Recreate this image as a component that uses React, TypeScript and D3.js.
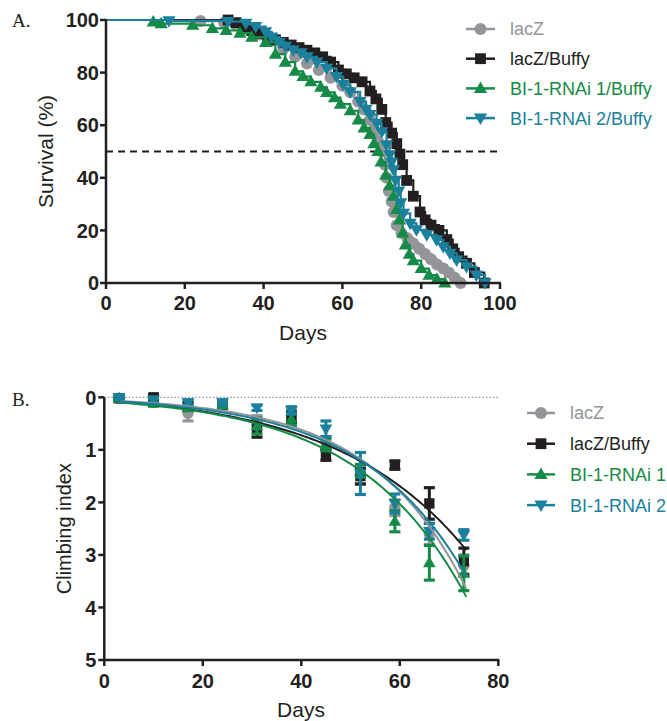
import React from "react";
import * as d3 from "d3";

// ---------- Shared ----------
const colors = ["#939598", "#231f20", "#168a47", "#1a809c"];
const shapes = ["circle", "square", "triUp", "triDown"];
const legendA = ["lacZ", "lacZ/Buffy", "BI-1-RNAi 1/Buffy", "BI-1-RNAi 2/Buffy"];
const legendB = ["lacZ", "lacZ/Buffy", "BI-1-RNAi 1", "BI-1-RNAi 2"];

// ---------- Panel A: survival (day, % surviving) ----------
const survLacZ: [number, number][] = [
  [0, 100], [24, 99.6], [30, 99], [33, 98], [36, 96.5], [39, 94.5], [42, 92], [45, 89], [48, 86],
  [51, 83.5], [54, 81], [57, 78], [60, 75], [62, 72.5], [64, 69], [65.5, 66], [67, 62], [68, 58],
  [69, 54], [70, 50], [70.8, 45], [71.2, 40], [71.8, 35], [72.5, 31], [73, 27], [73.8, 22], [75, 19],
  [76.5, 17], [78, 15], [79.5, 13], [81, 11], [82.5, 9], [84, 7], [85.6, 5.5], [87, 4], [88.5, 2], [90, 0],
];
const survLacZBuffy: [number, number][] = [
  [0, 100], [31, 100], [33, 99], [35, 97], [37, 96], [39, 95], [41, 93.5], [43, 92.5], [45, 91.5],
  [47, 90.5], [49, 89.5], [51, 88.5], [53, 87.5], [55, 86], [57, 84], [59, 81], [61, 79.5], [63, 78],
  [65, 76.5], [67, 73], [68.5, 70], [70, 66], [71, 61], [72.5, 57], [73.8, 53], [74.6, 49], [75.3, 45],
  [76.3, 39], [78, 33], [79.7, 27], [81, 24], [82.5, 22], [84.5, 20], [86.5, 16.5], [88, 13],
  [89.5, 10], [91.5, 7.5], [93.5, 4], [96, 0],
];
const survRNAi1: [number, number][] = [
  [0, 100], [12, 99.3], [14, 98.6], [22, 98], [27, 96.8], [30.5, 96], [34, 95], [37, 93.5],
  [40.5, 91.5], [43, 87], [45.5, 84], [48, 80.5], [50, 78.5], [52, 76.5], [54.5, 74.5], [56, 72.5],
  [58, 70.5], [59.5, 68], [62, 65.5], [64, 62], [65.5, 59], [67, 56.5], [68, 53], [69, 50], [69.8, 46],
  [71, 41], [72, 37], [73, 33], [73.8, 28], [74.5, 24], [75.3, 19], [76, 14.5], [77, 11], [78, 8.5],
  [80, 5.5], [82, 3], [84, 1.5], [86, 0],
];
const survRNAi2: [number, number][] = [
  [0, 100], [16, 99.7], [31, 99.4], [35.5, 98.7], [38, 97.5], [40.5, 95.5], [42, 93.5], [44, 91.5],
  [45.5, 90], [47.5, 88.6], [49.5, 87.5], [51, 86], [53.5, 84], [56, 81.6], [58.5, 78.5], [60.2, 75.5],
  [62, 72.7], [64.5, 69], [66, 66], [67, 64], [68.7, 60.7], [70, 57.5], [71.2, 52.5], [72, 48.7],
  [72.5, 46], [73, 43], [73.5, 39], [74.3, 35], [74.8, 30.5], [75.5, 26.5], [77.2, 22.7], [78.8, 20.2],
  [81.4, 18.3], [83.9, 16.4], [85.6, 13.8], [87.3, 11.3], [89, 8.7], [91.5, 6.2], [94, 3], [96.2, 0],
];
const survivalSeries = [survLacZ, survLacZBuffy, survRNAi1, survRNAi2];
const ticksA_x = [0, 20, 40, 60, 80, 100];
const ticksA_y = [0, 20, 40, 60, 80, 100];

// ---------- Panel B: climbing index ----------
const climbDays = [3, 10, 17, 24, 31, 38, 45, 52, 59, 66, 73];
const climbLacZ = [0.02, 0.1, 0.3, 0.15, 0.45, 0.35, 0.85, 1.5, 2.1, 2.6, 3.2];
const climbLacZErr = [0.03, 0.05, 0.15, 0.05, 0.1, 0.1, 0.1, 0.15, 0.15, 0.2, 0.2];
const climbLacZBuffy = [0.02, 0.0, 0.15, 0.15, 0.58, 0.38, 1.1, 1.5, 1.29, 2.02, 3.12];
const climbLacZBuffyErr = [0.03, 0.05, 0.05, 0.05, 0.18, 0.1, 0.1, 0.15, 0.08, 0.3, 0.25];
const climbRNAi1 = [0.02, 0.1, 0.2, 0.15, 0.55, 0.42, 0.9, 1.4, 2.36, 3.15, 3.35];
const climbRNAi1Err = [0.03, 0.07, 0.05, 0.05, 0.15, 0.12, 0.12, 0.12, 0.2, 0.33, 0.33];
const climbRNAi2 = [0.0, 0.05, 0.1, 0.1, 0.2, 0.25, 0.6, 1.45, 2.02, 2.55, 2.62];
const climbRNAi2Err = [0.03, 0.05, 0.05, 0.05, 0.05, 0.07, 0.15, 0.4, 0.18, 0.15, 0.1];
const climbMeans = [climbLacZ, climbLacZBuffy, climbRNAi1, climbRNAi2];
const climbErrs = [climbLacZErr, climbLacZBuffyErr, climbRNAi1Err, climbRNAi2Err];
// exponential fit parameters y = c + a * exp(k * day)
const fitA = [0.0803, 0.186, 0.136, 0.105];
const fitK = [0.052, 0.038, 0.0455, 0.0475];
const fitC = [-0.024, -0.128, -0.056, -0.041];
const ticksB_x = [0, 20, 40, 60, 80];
const ticksB_y = [0, 1, 2, 3, 4, 5];

const FONT = "'Liberation Sans', Arial, sans-serif";
const INK = "#231f20";

function Marker({ shape, x, y, color, size }: { shape: string; x: number; y: number; color: string; size: number }) {
  if (shape === "circle") return <circle cx={x} cy={y} r={size * 0.5} fill={color} />;
  if (shape === "square")
    return <rect x={x - size * 0.45} y={y - size * 0.45} width={size * 0.9} height={size * 0.9} fill={color} />;
  const h = size * 0.95;
  const w = size * 1.1;
  if (shape === "triUp")
    return <path d={`M${x},${y - h * 0.6}L${x + w / 2},${y + h * 0.4}L${x - w / 2},${y + h * 0.4}Z`} fill={color} />;
  return <path d={`M${x},${y + h * 0.6}L${x + w / 2},${y - h * 0.4}L${x - w / 2},${y - h * 0.4}Z`} fill={color} />;
}

export default function App() {
  // Panel A scales
  const xA = d3.scaleLinear().domain([0, 100]).range([106, 500]);
  const yA = d3.scaleLinear().domain([0, 100]).range([283, 20]);
  // Panel B scales
  const xB = d3.scaleLinear().domain([0, 80]).range([104.3, 498.3]);
  const yB = d3.scaleLinear().domain([0, 5]).range([397.3, 660]);

  const stepLine = d3
    .line<[number, number]>()
    .x((d) => xA(d[0]))
    .y((d) => yA(d[1]))
    .curve(d3.curveStepAfter);

  const fitDays = d3.range(3, 73.6, 0.5);

  return (
    <svg width={667} height={721} style={{ display: "block", position: "absolute", left: 0, top: 0 }}>
      <rect width={667} height={721} fill="#fff" />
      {/* Panel letters */}
      <text x={12} y={27} fontFamily="'Liberation Serif', 'Times New Roman', serif" fontSize={19} fill={INK}>A.</text>
      <text x={12} y={406} fontFamily="'Liberation Serif', 'Times New Roman', serif" fontSize={19} fill={INK}>B.</text>

      {/* ===== Panel A ===== */}
      <line x1={xA(0)} x2={xA(100)} y1={yA(50)} y2={yA(50)} stroke={INK} strokeWidth={2} strokeDasharray="7,5" />
      {survivalSeries.map((s, i) => (
        <g key={"sa" + i}>
          <path d={stepLine(s) || ""} fill="none" stroke={colors[i]} strokeWidth={2.2} />
          {s.slice(1).map((d, j) => (
            <Marker key={j} shape={shapes[i]} x={xA(d[0])} y={yA(d[1])} color={colors[i]} size={12} />
          ))}
        </g>
      ))}
      {/* axes A */}
      <line x1={xA(0)} x2={xA(0)} y1={yA(100) - 1} y2={yA(0)} stroke={INK} strokeWidth={2.5} />
      <line x1={xA(0) - 1} x2={xA(100) + 1} y1={yA(0)} y2={yA(0)} stroke={INK} strokeWidth={2.5} />
      {ticksA_y.map((t) => (
        <g key={"ya" + t}>
          <line x1={xA(0) - 6} x2={xA(0)} y1={yA(t)} y2={yA(t)} stroke={INK} strokeWidth={2.5} />
          <text x={xA(0) - 7} y={yA(t)} dy="0.36em" textAnchor="end" fontFamily={FONT} fontWeight="bold" fontSize={20} fill={INK}>{t}</text>
        </g>
      ))}
      {ticksA_x.map((t) => (
        <g key={"xa" + t}>
          <line x1={xA(t)} x2={xA(t)} y1={yA(0)} y2={yA(0) + 6} stroke={INK} strokeWidth={2.5} />
          <text x={xA(t)} y={yA(0) + 27} textAnchor="middle" fontFamily={FONT} fontWeight="bold" fontSize={20} fill={INK}>{t}</text>
        </g>
      ))}
      <text x={303} y={340} textAnchor="middle" fontFamily={FONT} fontSize={21} fill={INK}>Days</text>
      <text transform={`translate(53,${(yA(0) + yA(100)) / 2}) rotate(-90)`} textAnchor="middle" fontFamily={FONT} fontSize={21} fill={INK}>Survival (%)</text>
      {/* legend A */}
      {legendA.map((name, i) => {
        const y = 29 + i * 29.7;
        return (
          <g key={"la" + i}>
            <line x1={466} x2={495} y1={y} y2={y} stroke={colors[i]} strokeWidth={2.5} />
            <Marker shape={shapes[i]} x={480.5} y={y} color={colors[i]} size={12} />
            <text x={510} y={y} dy="0.36em" fontFamily={FONT} fontSize={18} fill={colors[i]}>{name}</text>
          </g>
        );
      })}

      {/* ===== Panel B ===== */}
      <line x1={xB(0)} x2={xB(80)} y1={yB(0)} y2={yB(0)} stroke="#777" strokeWidth={1} strokeDasharray="1.5,2" />
      {climbMeans.map((m, i) => (
        <g key={"cb" + i}>
          {m.map((v, j) => {
            const e = climbErrs[i][j];
            const x = xB(climbDays[j]);
            return (
              <g key={j}>
                <line x1={x} x2={x} y1={yB(v - e)} y2={yB(v + e)} stroke={colors[i]} strokeWidth={3} />
                <line x1={x - 5.5} x2={x + 5.5} y1={yB(v - e)} y2={yB(v - e)} stroke={colors[i]} strokeWidth={3.2} />
                <line x1={x - 5.5} x2={x + 5.5} y1={yB(v + e)} y2={yB(v + e)} stroke={colors[i]} strokeWidth={3.2} />
                <Marker shape={shapes[i]} x={x} y={yB(v)} color={colors[i]} size={11.5} />
              </g>
            );
          })}
        </g>
      ))}
      {fitA.map((a, i) => (
        <path
          key={"fit" + i}
          d={d3
            .line<number>()
            .x((d) => xB(d))
            .y((d) => yB(fitC[i] + a * Math.exp(fitK[i] * d)))(fitDays) || ""}
          fill="none"
          stroke={colors[i]}
          strokeWidth={2}
        />
      ))}
      {/* axes B */}
      <line x1={xB(0)} x2={xB(0)} y1={yB(0)} y2={yB(5)} stroke={INK} strokeWidth={2.5} />
      <line x1={xB(0) - 1} x2={xB(80) + 1} y1={yB(5)} y2={yB(5)} stroke={INK} strokeWidth={2.5} />
      {ticksB_y.map((t) => (
        <g key={"yb" + t}>
          <line x1={xB(0) - 6} x2={xB(0)} y1={yB(t)} y2={yB(t)} stroke={INK} strokeWidth={2.5} />
          <text x={xB(0) - 8} y={yB(t)} dy="0.36em" textAnchor="end" fontFamily={FONT} fontWeight="bold" fontSize={20} fill={INK}>{t}</text>
        </g>
      ))}
      {ticksB_x.map((t) => (
        <g key={"xb" + t}>
          <line x1={xB(t)} x2={xB(t)} y1={yB(5)} y2={yB(5) + 6} stroke={INK} strokeWidth={2.5} />
          <text x={xB(t)} y={yB(5) + 28} textAnchor="middle" fontFamily={FONT} fontWeight="bold" fontSize={20} fill={INK}>{t}</text>
        </g>
      ))}
      <text x={301} y={717} textAnchor="middle" fontFamily={FONT} fontSize={21} fill={INK}>Days</text>
      <text transform={`translate(71,${(yB(0) + yB(5)) / 2}) rotate(-90)`} textAnchor="middle" fontFamily={FONT} fontSize={20} fill={INK}>Climbing index</text>
      {/* legend B */}
      {legendB.map((name, i) => {
        const y = 413 + i * 30.7;
        return (
          <g key={"lb" + i}>
            <line x1={527} x2={555} y1={y} y2={y} stroke={colors[i]} strokeWidth={2.5} />
            <Marker shape={shapes[i]} x={541} y={y} color={colors[i]} size={12} />
            <text x={570} y={y} dy="0.36em" fontFamily={FONT} fontSize={18} fill={colors[i]}>{name}</text>
          </g>
        );
      })}
    </svg>
  );
}
